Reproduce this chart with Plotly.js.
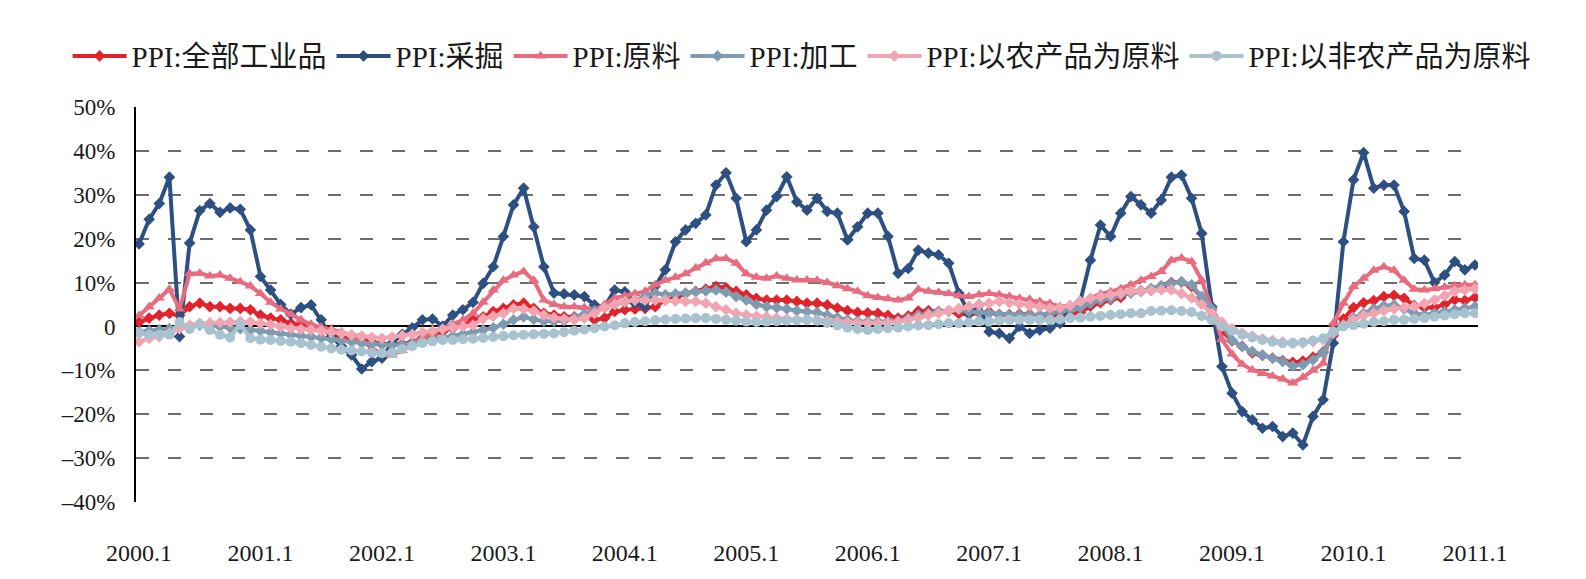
<!DOCTYPE html>
<html>
<head>
<meta charset="utf-8">
<script src="https://cdn.plot.ly/plotly-3.0.1.min.js"></script>
<style>html,body{margin:0;padding:0;background:#fff;}</style>
</head>
<body>
<div id="chart" style="width:1586px;height:579px;"></div>
<script>
// Monthly categories 2000.1 - 2011.1
const months = [];
for (let y = 2000; y <= 2011; y++) {
  for (let m = 1; m <= 12; m++) {
    if (y === 2011 && m > 1) break;
    months.push(y + '.' + m);
  }
}
const yearTicks = ['2000.1','2001.1','2002.1','2003.1','2004.1','2005.1','2006.1','2007.1','2008.1','2009.1','2010.1','2011.1'];
const yTickVals = [-40,-30,-20,-10,0,10,20,30,40,50];
const yTickText = ['\u201340%','\u201330%','\u201320%','\u201310%','0','10%','20%','30%','40%','50%'];

const seriesNames = ['PPI:全部工业品','PPI:采掘','PPI:原料','PPI:加工','PPI:以农产品为原料','PPI:以非农产品为原料'];

const ppiAll = [1.0,1.9,2.6,3.0,2.5,4.5,5.3,4.5,4.5,4.1,4.1,3.8,
2.6,1.9,1.5,0.7,0.3,-0.4,-0.8,-1.6,-2.3,-2.7,-3.0,-3.6,
-4.0,-4.2,-4.0,-3.6,-2.6,-1.9,-1.2,-0.4,0.5,1.5,2.2,3.4,
4.1,4.9,5.3,4.1,3.0,2.6,2.2,2.2,2.6,1.5,1.9,3.4,
3.8,4.0,4.1,4.5,6.0,6.5,7.5,8.0,8.5,9.1,8.8,8.0,
7.2,6.4,6.0,6.0,6.0,5.7,5.3,5.3,4.9,4.2,3.6,3.2,
3.1,3.0,2.5,1.9,2.4,3.5,3.6,3.4,3.5,2.9,2.8,3.1,
3.3,2.6,2.7,2.8,2.8,2.5,2.4,2.6,2.7,3.2,4.6,5.4,
6.1,6.6,8.0,8.1,8.2,8.8,10.0,10.1,9.1,6.6,2.0,-1.1,
-3.3,-4.5,-6.0,-6.6,-7.2,-7.8,-8.2,-7.9,-7.0,-5.8,-2.1,1.7,
4.3,5.4,5.9,6.8,7.1,6.4,4.8,4.3,4.3,5.0,6.1,5.9,
6.6];

const ppiMining = [18.8,24.4,28.0,34.0,-2.3,19.0,26.4,28.0,26.0,27.0,26.7,22.0,
11.4,8.3,5.0,2.8,4.3,4.9,1.5,-2.3,-4.5,-6.5,-9.7,-8.0,
-7.2,-3.8,-1.8,-0.3,1.5,1.7,0.1,2.6,3.8,5.5,9.8,13.6,
20.5,27.7,31.5,22.7,13.6,7.6,7.4,7.2,6.8,4.9,4.5,8.3,
7.9,5.3,4.5,9.1,12.9,19.3,22.0,23.5,25.4,32.2,35.0,29.2,
19.3,22.0,26.5,29.6,34.1,28.4,26.5,29.2,26.2,25.8,19.7,22.7,
25.8,25.8,20.5,12.1,13.2,17.4,16.7,16.3,14.4,7.6,3.0,4.9,
-1.2,-1.6,-2.7,0.0,-1.6,-0.8,-0.4,0.7,3.8,5.7,15.1,23.1,
20.5,25.8,29.6,27.7,25.8,28.8,34.0,34.5,29.2,21.2,4.5,-9.1,
-15.2,-19.4,-21.3,-23.2,-22.8,-25.1,-24.3,-27.0,-20.5,-16.7,-3.8,19.3,
33.4,39.6,31.5,32.2,32.2,26.2,15.5,15.1,10.0,11.7,14.8,12.9,
14.0];

const ppiRaw = [2.5,4.5,6.5,8.5,4.0,12.0,12.1,11.5,11.7,11.0,10.2,9.2,
7.5,5.5,4.0,2.8,1.5,0.5,-0.2,-0.6,-1.2,-2.0,-3.2,-5.0,
-6.2,-6.5,-5.5,-4.0,-2.5,-1.5,-0.5,0.5,1.5,3.0,5.5,8.3,
10.5,11.7,12.5,10.5,6.0,5.0,4.5,4.5,4.3,3.8,5.0,6.5,
7.0,7.5,8.0,9.5,10.5,11.2,12.0,13.3,14.5,15.5,15.5,14.4,
12.0,11.2,11.0,11.5,11.0,10.6,10.6,10.5,10.0,9.3,8.6,8.0,
7.0,6.6,6.3,6.0,6.5,8.5,8.0,7.8,7.5,7.0,6.8,7.2,
7.5,7.2,6.8,6.4,6.2,5.7,5.2,4.6,4.7,5.6,6.5,7.4,
7.9,8.6,9.5,10.5,11.4,12.5,15.1,15.6,14.8,10.5,4.0,-3.0,
-6.3,-8.6,-9.9,-10.7,-11.3,-12.0,-12.9,-11.6,-10.0,-8.4,0.7,5.3,
9.1,11.0,12.8,13.6,12.8,10.5,8.5,8.3,8.6,9.0,9.3,9.5,
9.5];

const ppiProc = [-1.2,-1.0,-0.8,-0.5,-0.2,0.0,0.3,0.2,0.0,-0.3,-0.5,-0.8,
-1.0,-1.3,-1.6,-1.9,-2.1,-2.3,-2.6,-2.9,-3.2,-3.5,-3.8,-4.0,
-4.2,-4.3,-4.2,-3.9,-3.5,-3.0,-2.6,-2.2,-1.8,-1.3,-0.8,-0.3,
0.5,1.5,2.2,1.6,1.2,1.2,1.3,2.0,2.8,3.5,4.2,5.0,
5.5,6.0,6.8,7.6,7.2,7.4,7.6,7.9,8.1,8.3,7.8,6.8,
6.0,5.0,4.5,4.3,4.0,3.6,3.4,3.2,2.6,2.0,1.5,1.2,
1.1,1.1,1.1,1.3,1.9,2.6,3.0,3.4,3.6,3.8,3.4,3.2,
3.0,2.8,2.6,2.6,2.6,2.6,3.0,3.4,3.8,4.3,5.3,6.0,
6.4,7.2,7.6,7.9,8.7,9.3,9.8,10.2,9.5,6.8,4.0,0.3,
-3.1,-4.6,-5.7,-6.5,-7.2,-8.0,-9.0,-8.7,-7.6,-6.0,-1.6,0.3,
1.9,3.0,4.0,4.7,4.9,4.0,3.0,2.6,3.0,3.4,3.8,4.2,
4.5];

const ppiAgri = [-3.5,-2.7,-2.3,-1.5,-0.5,0.3,0.7,0.8,0.9,1.0,1.1,1.0,
0.7,0.4,-0.1,-0.4,-0.6,-0.8,-1.0,-1.3,-1.6,-1.9,-2.2,-2.5,
-2.7,-2.4,-2.1,-1.8,-1.3,-1.0,-0.6,-0.2,0.0,0.3,1.8,2.3,
3.0,4.1,4.0,3.5,2.6,2.0,1.7,1.5,1.9,3.0,4.3,5.0,
5.7,6.0,6.0,6.0,6.0,5.8,5.7,5.7,5.3,4.5,3.8,3.0,
2.6,2.3,2.2,1.9,1.7,1.5,1.5,1.5,1.3,1.1,0.9,0.8,
0.7,0.7,0.8,1.0,1.5,2.0,2.6,3.0,3.6,4.1,4.6,4.9,
5.3,5.7,5.4,5.1,4.8,4.5,4.2,4.3,4.8,5.7,6.4,6.8,
7.2,7.6,8.0,8.0,8.2,8.3,8.3,7.5,6.5,5.0,3.0,1.0,
-0.5,-1.5,-2.2,-2.8,-3.2,-3.5,-3.8,-3.8,-3.5,-3.0,-1.5,0.3,
1.5,2.5,3.0,3.6,4.0,4.3,4.6,5.2,6.0,7.0,8.0,8.3,
8.6];

const ppiNonAgri = [-1.5,-1.9,-1.9,-1.9,1.0,-0.6,0.5,-0.8,-1.9,-2.5,0.5,-2.7,
-3.0,-3.1,-3.3,-3.5,-3.8,-4.2,-4.6,-5.0,-5.3,-5.5,-5.7,-6.0,
-6.1,-6.0,-5.2,-4.5,-3.8,-3.4,-3.1,-3.1,-2.9,-2.8,-2.6,-2.4,
-2.2,-2.0,-1.9,-1.8,-1.7,-1.6,-1.3,-1.0,-0.7,-0.4,0.0,0.3,
0.7,1.0,1.2,1.4,1.6,1.7,1.8,1.9,1.9,1.7,1.5,1.3,
1.1,1.0,1.1,1.2,1.3,1.4,1.5,1.3,0.8,0.2,-0.3,-0.6,
-0.8,-0.6,-0.4,-0.3,0.0,0.2,0.3,0.5,0.7,0.7,0.9,1.1,
1.1,1.3,1.5,1.5,1.5,1.5,1.5,1.6,1.9,2.0,2.2,2.4,
2.6,2.8,3.0,3.0,3.5,3.6,3.7,3.5,3.3,2.4,1.4,0.0,
-1.0,-1.9,-2.5,-3.1,-3.5,-3.8,-3.8,-3.6,-3.2,-2.7,-1.2,0.0,
0.3,0.6,1.0,1.2,1.5,1.5,1.7,1.9,2.2,2.5,2.8,3.0,
3.0];

const seriesValues = [ppiAll, ppiMining, ppiRaw, ppiProc, ppiAgri, ppiNonAgri];
const colors = ['#e3232c', '#2e4f81', '#e96b7f', '#7e9bb1', '#f2a4b1', '#a8c2d0'];
const symbols = ['diamond', 'diamond', 'triangle-up', 'diamond', 'diamond', 'circle'];
const msizes = [9, 9, 10, 9, 9, 10];

const traces = seriesValues.map((vals, k) => ({
  type: 'scatter',
  mode: 'lines+markers',
  name: seriesNames[k],
  x: months,
  y: vals.map(v => v / 100),
  line: {color: colors[k], width: 4},
  marker: {color: colors[k], symbol: symbols[k], size: msizes[k]},
  hoverinfo: 'skip'
}));

const fontFam = '"Liberation Serif", "Times New Roman", "Noto Sans CJK SC", serif';

const layout = {
  width: 1586,
  height: 579,
  paper_bgcolor: '#ffffff',
  plot_bgcolor: '#ffffff',
  margin: {l: 136, r: 108, t: 107, b: 77, pad: 0},
  font: {family: fontFam, color: '#1a1a1a', size: 23},
  showlegend: true,
  legend: {
    orientation: 'h',
    x: -0.051, xanchor: 'left',
    y: 1.129, yanchor: 'middle',
    font: {family: fontFam, size: 29, color: '#1a1a1a'},
    itemwidth: 54,
    tracegroupgap: 0,
    bgcolor: 'rgba(0,0,0,0)'
  },
  xaxis: {
    type: 'category',
    range: [-0.3, 132.3],
    tickmode: 'array',
    tickvals: yearTicks,
    ticktext: yearTicks,
    ticks: '',
    showline: false,
    showgrid: false,
    zeroline: false,
    ticklabelstandoff: 34,
    tickfont: {family: fontFam, size: 24, color: '#1a1a1a'}
  },
  xaxis2: {
    overlaying: 'x',
    anchor: 'free',
    position: 40 / 90,
    type: 'linear',
    range: [-0.3, 132.3],
    tick0: 0,
    dtick: 6,
    ticks: 'outside',
    ticklen: 7,
    tickwidth: 2,
    tickcolor: '#000000',
    showticklabels: false,
    showline: false,
    showgrid: false,
    zeroline: false,
    layer: 'below traces'
  },
  yaxis: {
    range: [-0.40, 0.50],
    tickmode: 'array',
    tickvals: yTickVals.map(v => v / 100),
    ticktext: yTickText,
    ticks: '',
    showline: true,
    linecolor: '#000000',
    linewidth: 2,
    showgrid: true,
    gridcolor: '#6d6d6d',
    gridwidth: 2,
    griddash: '13px,19px',
    zeroline: true,
    zerolinecolor: '#000000',
    zerolinewidth: 2,
    ticklabelstandoff: 14,
    tickfont: {family: fontFam, size: 23, color: '#1a1a1a'}
  }
};

Plotly.newPlot('chart', traces, layout, {staticPlot: true, displayModeBar: false});
</script>
</body>
</html>
